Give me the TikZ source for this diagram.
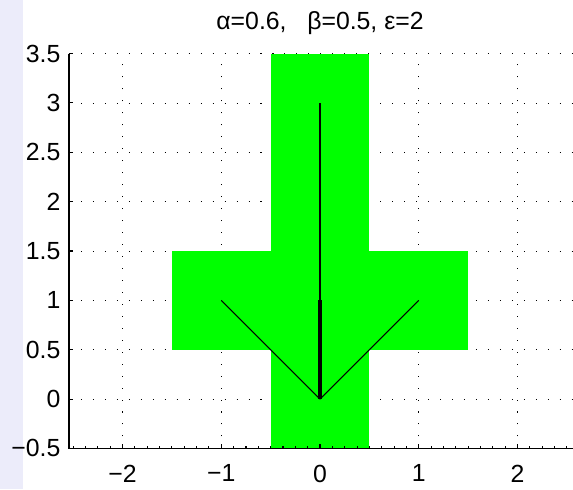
\documentclass[tikz,border=0pt]{standalone}
\usepackage{fontspec}
\setmainfont{Liberation Sans}
\usepackage{tikz}
\usetikzlibrary{positioning,calc}
\definecolor{PlotGreen}{RGB}{0,255,0}
\definecolor{SlideLilac}{RGB}{236,236,250}
\tikzset{
  gridline/.style={draw=black,line width=0.5pt,dash pattern=on 0.6pt off 6.3pt},
  axisline/.style={draw=black,line width=0.6pt},
  ticklab/.style={inner sep=0pt,font=\fontsize{14.3}{16}\selectfont},
  ray/.style={draw=black,line width=0.6pt},
}
\begin{document}
\begin{tikzpicture}[x=2cm,y=2cm]
\useasboundingbox (-3.242,-0.912) rectangle (2.563,4.043);
\fill[white] (-3.242,-0.912) rectangle (2.563,4.043);
\fill[SlideLilac] (-3.242,-0.912) rectangle (-3.009,4.043);
% grid
\draw[gridline] (-2,-0.5) -- (-2,3.5);
\draw[gridline] (-1,-0.5) -- (-1,3.5);
\draw[gridline] (0,-0.5) -- (0,3.5);
\draw[gridline] (1,-0.5) -- (1,3.5);
\draw[gridline] (2,-0.5) -- (2,3.5);
\draw[gridline] (-2.543,0) -- (2.563,0);
\draw[gridline] (-2.543,0.5) -- (2.563,0.5);
\draw[gridline] (-2.543,1) -- (2.563,1);
\draw[gridline] (-2.543,1.5) -- (2.563,1.5);
\draw[gridline] (-2.543,2) -- (2.563,2);
\draw[gridline] (-2.543,2.5) -- (2.563,2.5);
\draw[gridline] (-2.543,3) -- (2.563,3);
\draw[gridline] (-2.543,3.5) -- (2.563,3.5);
% cross
\fill[PlotGreen] (-0.5,-0.5) rectangle (0.5,3.5);
\fill[PlotGreen] (-1.5,0.5) rectangle (1.5,1.5);
% rays
\coordinate (o) at (0,0);
\coordinate (up1) at (0,1);
\coordinate (up2) at (0,2);
\coordinate (up3) at (0,3);
\coordinate (lt) at (-1,1);
\coordinate (rt) at (1,1);
\draw[ray] (o)--(lt);
\draw[ray] (o)--(rt);
\draw[ray] (o)--(up3);
\draw[ray,line width=1.5pt] (o)--(up2);
\draw[ray,line width=2.5pt] (o)--(up1);
% axes
\coordinate (ax0) at (-2.543,-0.5);
\coordinate (axT) at (-2.543,3.5);
\coordinate (axR) at (2.563,-0.5);
\draw[axisline] (axT)--(ax0)--(axR);
\foreach \y in {-0.5,0,...,3.5}
  \draw[axisline] (-2.543,\y) -- ++(2.3pt,0);
\foreach \x in {-2,-1,0,1,2}
  \draw[axisline] (\x,-0.5) -- ++(0,2.3pt);
\foreach \x in {-2.5,-2.375,...,2.5}
  \draw[axisline] (\x,-0.5) -- ++(0,1.2pt);
% labels
\node[ticklab,anchor=east] (yl1) at ($(-2.543,-0.5)+(-4.8pt,0)$) {−0.5};
\node[ticklab,anchor=east] (yl2) at ($(-2.543,0)+(-4.8pt,0)$) {0};
\node[ticklab,anchor=east] (yl3) at ($(-2.543,0.5)+(-4.8pt,0)$) {0.5};
\node[ticklab,anchor=east] (yl4) at ($(-2.543,1)+(-4.8pt,0)$) {1};
\node[ticklab,anchor=east] (yl5) at ($(-2.543,1.5)+(-4.8pt,0)$) {1.5};
\node[ticklab,anchor=east] (yl6) at ($(-2.543,2)+(-4.8pt,0)$) {2};
\node[ticklab,anchor=east] (yl7) at ($(-2.543,2.5)+(-4.8pt,0)$) {2.5};
\node[ticklab,anchor=east] (yl8) at ($(-2.543,3)+(-4.8pt,0)$) {3};
\node[ticklab,anchor=east] (yl9) at ($(-2.543,3.5)+(-4.8pt,0)$) {3.5};
\node[ticklab,anchor=north] (xl1) at ($(-2,-0.5)+(0,-9.2pt)$) {−2};
\node[ticklab,anchor=north] (xl2) at ($(-1,-0.5)+(0,-9.2pt)$) {−1};
\node[ticklab,anchor=north] (xl3) at ($(0,-0.5)+(0,-9.2pt)$) {0};
\node[ticklab,anchor=north] (xl4) at ($(1,-0.5)+(0,-9.2pt)$) {1};
\node[ticklab,anchor=north] (xl5) at ($(2,-0.5)+(0,-9.2pt)$) {2};
\node[ticklab,anchor=base] (title) at (0,3.739) {α=0.6,\ \ \ β=0.5, ε=2};
\end{tikzpicture}
\end{document}
